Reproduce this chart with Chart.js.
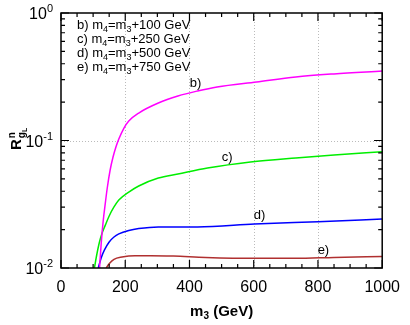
<!DOCTYPE html>
<html>
<head>
<meta charset="utf-8">
<script src="https://cdn.jsdelivr.net/npm/chart.js@4"></script>
<style>
  html, body { margin: 0; padding: 0; background: #fff; }
  #wrap { width: 410px; height: 325px; }
</style>
</head>
<body>
<div id="wrap"><canvas id="myChart" width="410" height="325"></canvas></div>
<script>
// m3 (GeV) and R values
const m3B = [120, 125, 131, 138, 144, 153, 162, 171, 180, 196, 211, 242, 303, 364, 425, 486, 609, 731, 850, 1000];
const rB  = [0.01, 0.0154, 0.0229, 0.0323, 0.0424, 0.0587, 0.0742, 0.0889, 0.1027, 0.1253, 0.1422, 0.1643, 0.1968, 0.2234, 0.2445, 0.263, 0.288, 0.315, 0.333, 0.351];

const m3C = [104, 110, 119, 128, 138, 150, 165, 180, 211, 242, 303, 364, 456, 590, 731, 850, 1000];
const rC  = [0.01, 0.0122, 0.0157, 0.0188, 0.0217, 0.0256, 0.0301, 0.0341, 0.0394, 0.044, 0.0508, 0.0546, 0.0608, 0.0678, 0.073, 0.077, 0.0817];

const m3D = [116, 125, 135, 150, 165, 180, 211, 242, 303, 425, 602, 800, 1000];
const rD  = [0.01, 0.012, 0.0138, 0.016, 0.0175, 0.0185, 0.0197, 0.0204, 0.021, 0.021, 0.0221, 0.0231, 0.0242];

const m3E = [141, 150, 165, 190, 230, 280, 350, 450, 600, 730, 850, 1000];
const rE  = [0.01, 0.0108, 0.0117, 0.0122, 0.0125, 0.0125, 0.0124, 0.0121, 0.0119, 0.0119, 0.0121, 0.0123];

const seriesNames = ['b)', 'c)', 'd)', 'e)'];
const legendLines = [['b) m', '4', '=m', '3', '+100 GeV'], ['c) m', '4', '=m', '3', '+250 GeV'],
                     ['d) m', '4', '=m', '3', '+500 GeV'], ['e) m', '4', '=m', '3', '+750 GeV']];
// where the curve tags sit (m3, R)
const tagX = [419, 517, 618, 817];
const tagY = [0.282, 0.0743, 0.026, 0.0138];
const xTicks = [0, 200, 400, 600, 800, 1000];
const yDecades = [0.01, 0.1, 1];

const colors = ['#ff00ff', '#00ee00', '#0000ff', '#b03030'];
const FONT = '"Liberation Sans", Arial, sans-serif';

function pts(xs, ys) { return xs.map((x, i) => ({ x: x, y: ys[i] })); }

const allData = [pts(m3B, rB), pts(m3C, rC), pts(m3D, rD), pts(m3E, rE)];

// draws the frame, gnuplot style ticks, labels and titles
const decor = {
  id: 'decor',
  beforeDatasetsDraw(chart) {
    const { ctx, chartArea: a, scales: { x, y } } = chart;
    ctx.save();
    ctx.strokeStyle = '#bbbbbb';
    ctx.lineWidth = 1;
    ctx.setLineDash([1, 2]);
    [200, 400, 600, 800].forEach(v => {
      const px = Math.round(x.getPixelForValue(v)) + 0.5;
      ctx.beginPath(); ctx.moveTo(px, a.top); ctx.lineTo(px, a.bottom); ctx.stroke();
    });
    const py = Math.round(y.getPixelForValue(0.1)) + 0.5;
    ctx.beginPath(); ctx.moveTo(a.left, py); ctx.lineTo(a.right, py); ctx.stroke();
    ctx.restore();
  },
  afterDatasetsDraw(chart) {
    const { ctx, chartArea: a, scales: { x, y } } = chart;
    ctx.save();
    ctx.strokeStyle = '#000';
    ctx.lineWidth = 1.5;
    ctx.strokeRect(a.left, a.top, a.right - a.left, a.bottom - a.top);
    ctx.lineWidth = 1.2;
    // x ticks, every 50 with long ones every 200
    for (let v = 0; v <= 1000; v += 50) {
      const px = x.getPixelForValue(v);
      const len = v % 200 === 0 ? 8 : 4;
      ctx.beginPath();
      ctx.moveTo(px, a.bottom); ctx.lineTo(px, a.bottom - len);
      ctx.moveTo(px, a.top); ctx.lineTo(px, a.top + len);
      ctx.stroke();
    }
    // y ticks, log minors
    for (let d = 0.01; d < 1; d *= 10) {
      for (let k = 1; k <= 10; k++) {
        const py = y.getPixelForValue(d * k);
        const len = (k === 1 || k === 10) ? 8 : 4;
        ctx.beginPath();
        ctx.moveTo(a.left, py); ctx.lineTo(a.left + len, py);
        ctx.moveTo(a.right, py); ctx.lineTo(a.right - len, py);
        ctx.stroke();
      }
    }
    // y tick labels 10^n
    ctx.fillStyle = '#000';
    ctx.textBaseline = 'alphabetic';
    yDecades.forEach(v => {
      const py = y.getPixelForValue(v);
      const ex = String(Math.round(Math.log10(v)));
      ctx.font = '11px ' + FONT;
      const ew = ctx.measureText(ex).width;
      ctx.font = '16px ' + FONT;
      const bw = ctx.measureText('10').width;
      const right = a.left - 8;
      ctx.textAlign = 'left';
      ctx.fillText('10', right - ew - bw, py + 6);
      ctx.font = '11px ' + FONT;
      ctx.fillText(ex, right - ew, py - 1);
    });
    // curve tags
    ctx.font = '13px ' + FONT;
    ctx.textAlign = 'center';
    ctx.textBaseline = 'middle';
    seriesNames.forEach((n, i) => {
      ctx.fillText(n, x.getPixelForValue(tagX[i]), y.getPixelForValue(tagY[i]));
    });
    // key text with subscripts
    ctx.textAlign = 'left';
    ctx.textBaseline = 'alphabetic';
    legendLines.forEach((parts, i) => {
      let cx = a.left + 16;
      const base = a.top + 16 + i * 14;
      parts.forEach((p, j) => {
        const sub = j % 2 === 1;
        ctx.font = (sub ? '9px ' : '13px ') + FONT;
        ctx.fillText(p, cx, base + (sub ? 3 : 0));
        cx += ctx.measureText(p).width;
      });
    });
    // x title
    ctx.font = 'bold 15px ' + FONT;
    const t1 = 'm', t2 = '3', t3 = ' (GeV)';
    const w1 = ctx.measureText(t1).width, w3 = ctx.measureText(t3).width;
    ctx.font = 'bold 10px ' + FONT;
    const w2 = ctx.measureText(t2).width;
    let sx = (a.left + a.right) / 2 - (w1 + w2 + w3) / 2;
    const by = 316;
    ctx.font = 'bold 15px ' + FONT; ctx.fillText(t1, sx, by); sx += w1;
    ctx.font = 'bold 10px ' + FONT; ctx.fillText(t2, sx, by + 3); sx += w2;
    ctx.font = 'bold 15px ' + FONT; ctx.fillText(t3, sx, by);
    // y title, rotated
    ctx.translate(21, 150);
    ctx.rotate(-Math.PI / 2);
    ctx.font = 'bold 15px ' + FONT;
    ctx.fillText('R', 0, 0);
    const rw = ctx.measureText('R').width;
    ctx.font = 'bold 10px ' + FONT;
    ctx.fillText('n', rw + 1, -6);
    ctx.fillText('g', rw + 1, 4);
    const gw = ctx.measureText('g').width;
    ctx.font = 'bold 7px ' + FONT;
    ctx.fillText('L', rw + 1 + gw, 6);
    ctx.restore();
  }
};

const ctx = document.getElementById('myChart').getContext('2d');
new Chart(ctx, {
  type: 'line',
  data: {
    datasets: allData.map((d, i) => ({
      label: seriesNames[i],
      data: d,
      borderColor: colors[i],
      borderWidth: 1.5,
      pointRadius: 0,
      fill: false,
      cubicInterpolationMode: 'monotone'
    }))
  },
  options: {
    responsive: false,
    animation: false,
    layout: { padding: { top: 13, right: 22, left: 0, bottom: 0 } },
    plugins: { legend: { display: false }, tooltip: { enabled: false } },
    scales: {
      x: {
        type: 'linear', min: 0, max: 1000,
        afterBuildTicks: s => { s.ticks = xTicks.map(v => ({ value: v })); },
        afterFit: s => { s.height = 57; },
        grid: { display: false, drawTicks: false },
        border: { display: false },
        ticks: {
          color: '#000', padding: 10, maxRotation: 0,
          font: { family: FONT, size: 16 },
          callback: v => String(v)
        }
      },
      y: {
        type: 'logarithmic', min: 0.01, max: 1,
        afterFit: s => { s.width = 61; },
        grid: { display: false, drawTicks: false },
        border: { display: false },
        ticks: { display: false }
      }
    }
  },
  plugins: [decor]
});
</script>
</body>
</html>
